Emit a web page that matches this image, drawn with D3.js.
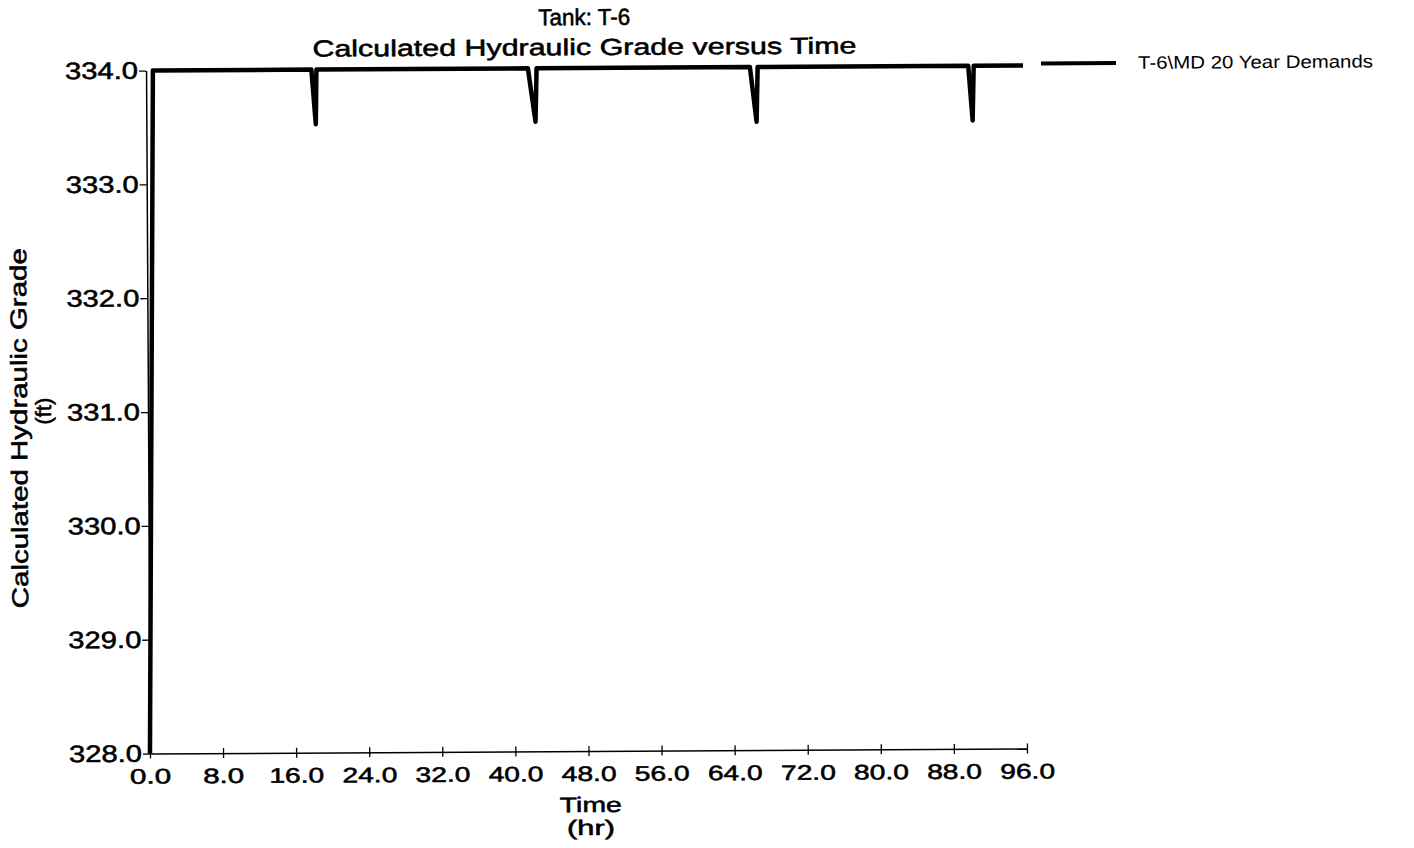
<!DOCTYPE html>
<html>
<head>
<meta charset="utf-8">
<script src="https://cdn.jsdelivr.net/npm/d3@7"></script>
<style>
  body { margin: 0; background: #fff; }
  text { font-family: "Liberation Sans", Arial, sans-serif; fill: #000; }
  .heavy { stroke: #000; stroke-width: 0.55px; }
</style>
</head>
<body>
<div id="chart"></div>
<script>
// tank T-6 hydraulic grade
var times  = [0, 0.75, 18.1, 18.55, 18.65, 41.8, 42.6, 42.75, 66.1, 66.8, 66.95, 90.0, 90.45, 90.6, 96];
var grades = [328.0, 334.0, 334.0, 333.52, 334.0, 334.0, 333.53, 334.0, 334.0, 333.52, 334.0, 334.0, 333.52, 334.0, 334.0];

var xTicks = [0, 8, 16, 24, 32, 40, 48, 56, 64, 72, 80, 88, 96];
var yTicks = [328, 329, 330, 331, 332, 333, 334];

var titleLines = ["Tank: T-6", "Calculated Hydraulic Grade versus Time"];
var seriesName = "T-6\\MD 20 Year Demands";

var width = 1414, height = 848;

var svg = d3.select("#chart").append("svg")
    .attr("width", width)
    .attr("height", height);

// the scan is a little crooked, so tilt everything the same way
var g = svg.append("g")
    .attr("transform", "rotate(-0.33, 587, 410)");

var x = d3.scaleLinear().domain([0, 96]).range([148, 1025]);
var y = d3.scaleLinear().domain([328, 334]).range([751, 68]);

var fmt = d3.format(".1f");

// y axis
var yAxis = g.append("g")
    .attr("class", "y axis")
    .attr("transform", "translate(" + x(0) + ",0)")
    .call(d3.axisLeft(y).tickValues(yTicks).tickSize(7).tickSizeOuter(0).tickPadding(1).tickFormat(fmt));

yAxis.select(".domain").attr("stroke", "#000").attr("stroke-width", 1.5);
yAxis.selectAll(".tick line").attr("stroke", "#000").attr("stroke-width", 1.3);
yAxis.selectAll(".tick text")
    .attr("class", "heavy")
    .attr("font-size", 24)
    .attr("fill", "#000")
    .attr("font-family", "Liberation Sans, Arial, sans-serif")
    .attr("textLength", function(d){ return fmt(d).length * 14.6; })
    .attr("lengthAdjust", "spacingAndGlyphs");

// x axis
var xAxis = g.append("g")
    .attr("class", "x axis")
    .attr("transform", "translate(0," + y(328) + ")")
    .call(d3.axisBottom(x).tickValues(xTicks).tickSize(5).tickSizeOuter(0).tickFormat(fmt));

xAxis.select(".domain").attr("stroke", "#000").attr("stroke-width", 1.5);
xAxis.selectAll(".tick line").attr("y1", -5).attr("stroke", "#000").attr("stroke-width", 1.3);
xAxis.selectAll(".tick text")
    .attr("class", "heavy")
    .attr("y", 30)
    .attr("dy", null)
    .attr("font-size", 21)
    .attr("fill", "#000")
    .attr("font-family", "Liberation Sans, Arial, sans-serif")
    .attr("textLength", function(d){ return fmt(d).length * 13.7; })
    .attr("lengthAdjust", "spacingAndGlyphs");

// the series
var line = d3.line()
    .x(function(d, i){ return x(times[i]); })
    .y(function(d){ return y(d); });

g.append("path")
    .datum(grades)
    .attr("d", line)
    .attr("fill", "none")
    .attr("stroke", "#000")
    .attr("stroke-width", 4.5)
    .attr("stroke-linejoin", "round");

// titles
var midX = (x(0) + x(96)) / 2;

g.append("text")
    .attr("class", "heavy")
    .attr("x", midX).attr("y", 25)
    .attr("text-anchor", "middle")
    .attr("font-size", 23)
    .attr("textLength", 92)
    .attr("lengthAdjust", "spacingAndGlyphs")
    .text(titleLines[0]);

g.append("text")
    .attr("class", "heavy")
    .attr("x", midX).attr("y", 55)
    .attr("text-anchor", "middle")
    .attr("font-size", 23)
    .attr("textLength", 544)
    .attr("lengthAdjust", "spacingAndGlyphs")
    .text(titleLines[1]);

g.append("text")
    .attr("class", "heavy")
    .attr("x", midX + 2).attr("y", 812)
    .attr("text-anchor", "middle")
    .attr("font-size", 21)
    .attr("textLength", 62)
    .attr("lengthAdjust", "spacingAndGlyphs")
    .text("Time");

g.append("text")
    .attr("class", "heavy")
    .attr("x", midX + 2).attr("y", 835)
    .attr("text-anchor", "middle")
    .attr("font-size", 21)
    .attr("textLength", 48)
    .attr("lengthAdjust", "spacingAndGlyphs")
    .text("(hr)");

g.append("text")
    .attr("class", "heavy")
    .attr("transform", "translate(27,425) rotate(-90)")
    .attr("text-anchor", "middle")
    .attr("font-size", 23)
    .attr("textLength", 360)
    .attr("lengthAdjust", "spacingAndGlyphs")
    .text("Calculated Hydraulic Grade");

g.append("text")
    .attr("class", "heavy")
    .attr("transform", "translate(51,408) rotate(-90)")
    .attr("text-anchor", "middle")
    .attr("font-size", 22)
    .text("(ft)");

// legend
g.append("line")
    .attr("x1", 1043).attr("x2", 1118)
    .attr("y1", 66).attr("y2", 66)
    .attr("stroke", "#000")
    .attr("stroke-width", 4);

g.append("text")
    .attr("x", 1140).attr("y", 72)
    .attr("font-size", 18)
    .attr("textLength", 235)
    .attr("lengthAdjust", "spacingAndGlyphs")
    .text(seriesName);
</script>
</body>
</html>
